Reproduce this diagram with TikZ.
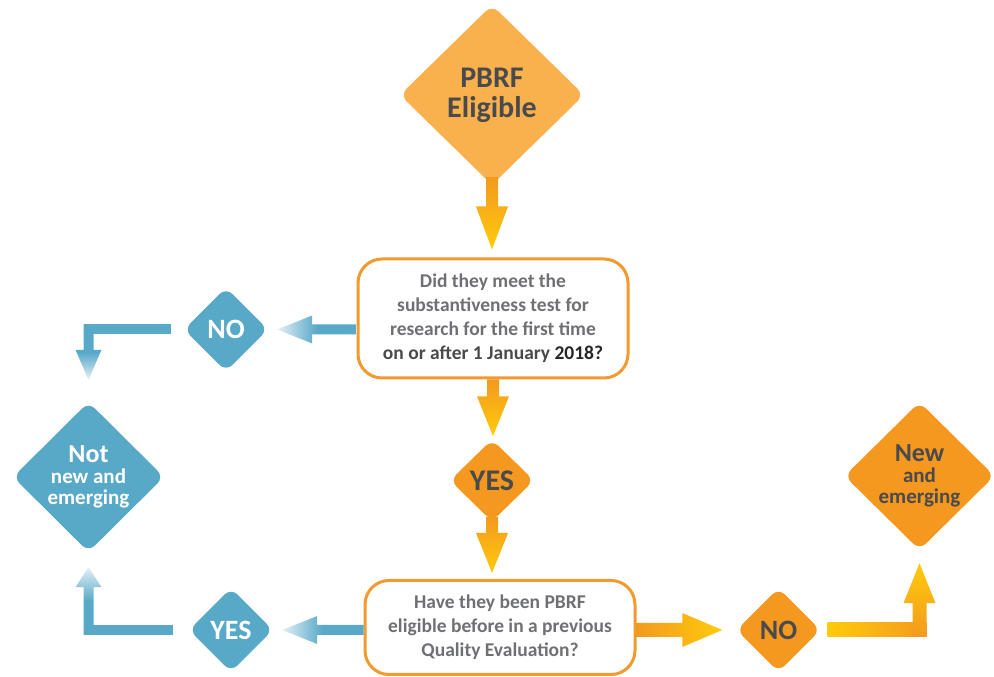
\documentclass[tikz,border=0pt]{standalone}
\usepackage{fontspec}
\setmainfont{Carlito}
\usetikzlibrary{shapes.geometric,calc}
\definecolor{lorange}{HTML}{F9B14E}
\definecolor{dorange}{HTML}{F5981F}
\definecolor{aorange}{HTML}{F39A1E}
\definecolor{ayellow}{HTML}{FFCB0C}
\definecolor{bblue}{HTML}{58A8C8}
\definecolor{bpale}{HTML}{E3F0F6}
\definecolor{dgray}{HTML}{4A4A4D}
\definecolor{mgray}{HTML}{6F7073}
\definecolor{borange}{HTML}{F29A2E}
% fat arrows: #1 start, #2 tip, #3 shaft half width, #4 head half width, #5 head length, #6 style
\newcommand\farrowdown[6]{\path[#6] let \p1=#1, \p2=#2 in (\x1-#3,\y1) -- (\x1+#3,\y1) -- (\x1+#3,\y2+#5) -- (\x1+#4,\y2+#5) -- (\x1,\y2) -- (\x1-#4,\y2+#5) -- (\x1-#3,\y2+#5) -- cycle;}
\newcommand\farrowup[6]{\path[#6] let \p1=#1, \p2=#2 in (\x1-#3,\y1) -- (\x1+#3,\y1) -- (\x1+#3,\y2-#5) -- (\x1+#4,\y2-#5) -- (\x1,\y2) -- (\x1-#4,\y2-#5) -- (\x1-#3,\y2-#5) -- cycle;}
\newcommand\farrowleft[6]{\path[#6] let \p1=#1, \p2=#2 in (\x1,\y1-#3) -- (\x1,\y1+#3) -- (\x2+#5,\y1+#3) -- (\x2+#5,\y1+#4) -- (\x2,\y1) -- (\x2+#5,\y1-#4) -- (\x2+#5,\y1-#3) -- cycle;}
\newcommand\farrowright[6]{\path[#6] let \p1=#1, \p2=#2 in (\x1,\y1-#3) -- (\x1,\y1+#3) -- (\x2-#5,\y1+#3) -- (\x2-#5,\y1+#4) -- (\x2,\y1) -- (\x2-#5,\y1-#4) -- (\x2-#5,\y1-#3) -- cycle;}
\newcommand\fbarh[4]{\path[#4] let \p1=#1, \p2=#2 in (\x1,\y1-#3) rectangle (\x2,\y1+#3);}
\tikzset{
  dia/.style={diamond, rounded corners=9pt, inner sep=0pt, align=center, font=\bfseries},
  bigdia/.style={dia, font=\bfseries\fontsize{21}{21}\selectfont},
  qbox/.style={draw=borange, line width=3pt, rounded corners=24pt, fill=white, align=center,
    text=mgray, font=\bfseries\fontsize{19.5}{24}\selectfont, minimum width=270pt},
  oshadev/.style={shade, top color=aorange, bottom color=ayellow},
  bshadel/.style={shade, left color=bpale, right color=bblue, middle color=bblue},
  bshaded/.style={shade, top color=bblue, bottom color=bpale, middle color=bblue},
  bshadeu/.style={shade, top color=bpale, bottom color=bblue, middle color=bblue},
}
\begin{document}
\begin{tikzpicture}[x=1pt,y=1pt]
\useasboundingbox (0,0) rectangle (994,677);
\fill[white] (0,0) rectangle (994,677);
% nodes
\node[dia, fill=lorange, text=dgray, minimum width=184pt, minimum height=180pt,
  font=\bfseries\fontsize{30}{30}\selectfont] (pbrf) at (492,582) {PBRF\\Eligible};
\node[qbox, minimum height=119pt] (q1) at (493,358.5) {Did they meet the\\substantiveness test for\\research for the first time\\{\color{dgray}on or after 1 January} {\color{black!85}2018?}};
\node[dia, fill=dorange, text=dgray, minimum width=84pt, minimum height=82pt,
  font=\bfseries\fontsize{30}{30}\selectfont] (yes1) at (492,196.5) {YES};
\node[qbox, minimum height=94pt] (q2) at (500,49.5) {Have they been PBRF\\eligible before in a previous\\Quality Evaluation?};
\node[dia, fill=bblue, text=white, minimum width=84pt, minimum height=84pt,
  font=\bfseries\fontsize{28}{28}\selectfont] (noB) at (226,347.5) {NO};
\node[bigdia, fill=bblue, text=white, minimum width=151pt, minimum height=150pt] (notNE) at (88.5,200)
  {{\fontsize{26}{21}\selectfont Not}\\new and\\emerging};
\node[dia, fill=bblue, text=white, minimum width=84pt, minimum height=84pt,
  font=\bfseries\fontsize{28}{28}\selectfont] (yesB) at (231,47) {YES};
\node[dia, fill=dorange, text=dgray, minimum width=84pt, minimum height=84pt,
  font=\bfseries\fontsize{28}{28}\selectfont] (noO) at (778.5,47) {NO};
\node[bigdia, fill=dorange, text=dgray, minimum width=150pt, minimum height=148pt] (NE) at (919.5,201)
  {{\fontsize{26}{21}\selectfont New}\\and\\emerging};
% connectors
\farrowdown{($(pbrf.south)+(0,8)$)}{($(q1.north)+(0,8)$)}{6pt}{16pt}{43pt}{oshadev}
\farrowdown{(q1.south)}{($(yes1.north)+(0,3)$)}{6pt}{16pt}{40pt}{oshadev}
\farrowdown{($(yes1.south)+(0,5)$)}{($(q2.north)+(0,6)$)}{6pt}{16pt}{40pt}{oshadev}
\farrowleft{(q1.west |- noB.east)}{($(noB.east)+(9,0)$)}{5pt}{14pt}{35pt}{bshadel}
\farrowleft{(q2.west |- yesB.east)}{($(yesB.east)+(9,0)$)}{5pt}{14pt}{35pt}{bshadel}
\farrowright{(q2.east |- noO.west)}{($(noO.west)+(-14,0)$)}{7pt}{17pt}{40pt}{shade, left color=aorange, right color=ayellow}
% elbows
\coordinate (c1) at (notNE.north |- noB.west);
\fbarh{($(noB.west)+(-13,0)$)}{($(c1)+(-5,0)$)}{5pt}{fill=bblue}
\farrowdown{($(c1)+(0,5)$)}{($(notNE.north)+(0,22)$)}{5pt}{13pt}{30pt}{bshaded}
\coordinate (c2) at (notNE.south |- yesB.west);
\fbarh{($(yesB.west)+(-16,0)$)}{($(c2)+(-5,0)$)}{5pt}{fill=bblue}
\farrowup{($(c2)+(0,-5)$)}{($(notNE.south)+(0,-15)$)}{5pt}{13pt}{20pt}{bshadeu}
\coordinate (c3) at (NE.south |- noO.east);
\fbarh{($(noO.east)+(7,0)$)}{($(c3)+(7,0)$)}{7pt}{shade, left color=ayellow, right color=aorange}
\farrowup{($(c3)+(0,-7)$)}{($(NE.south)+(0,-13)$)}{7pt}{16pt}{40pt}{shade, top color=ayellow, bottom color=aorange}
\end{tikzpicture}
\end{document}
